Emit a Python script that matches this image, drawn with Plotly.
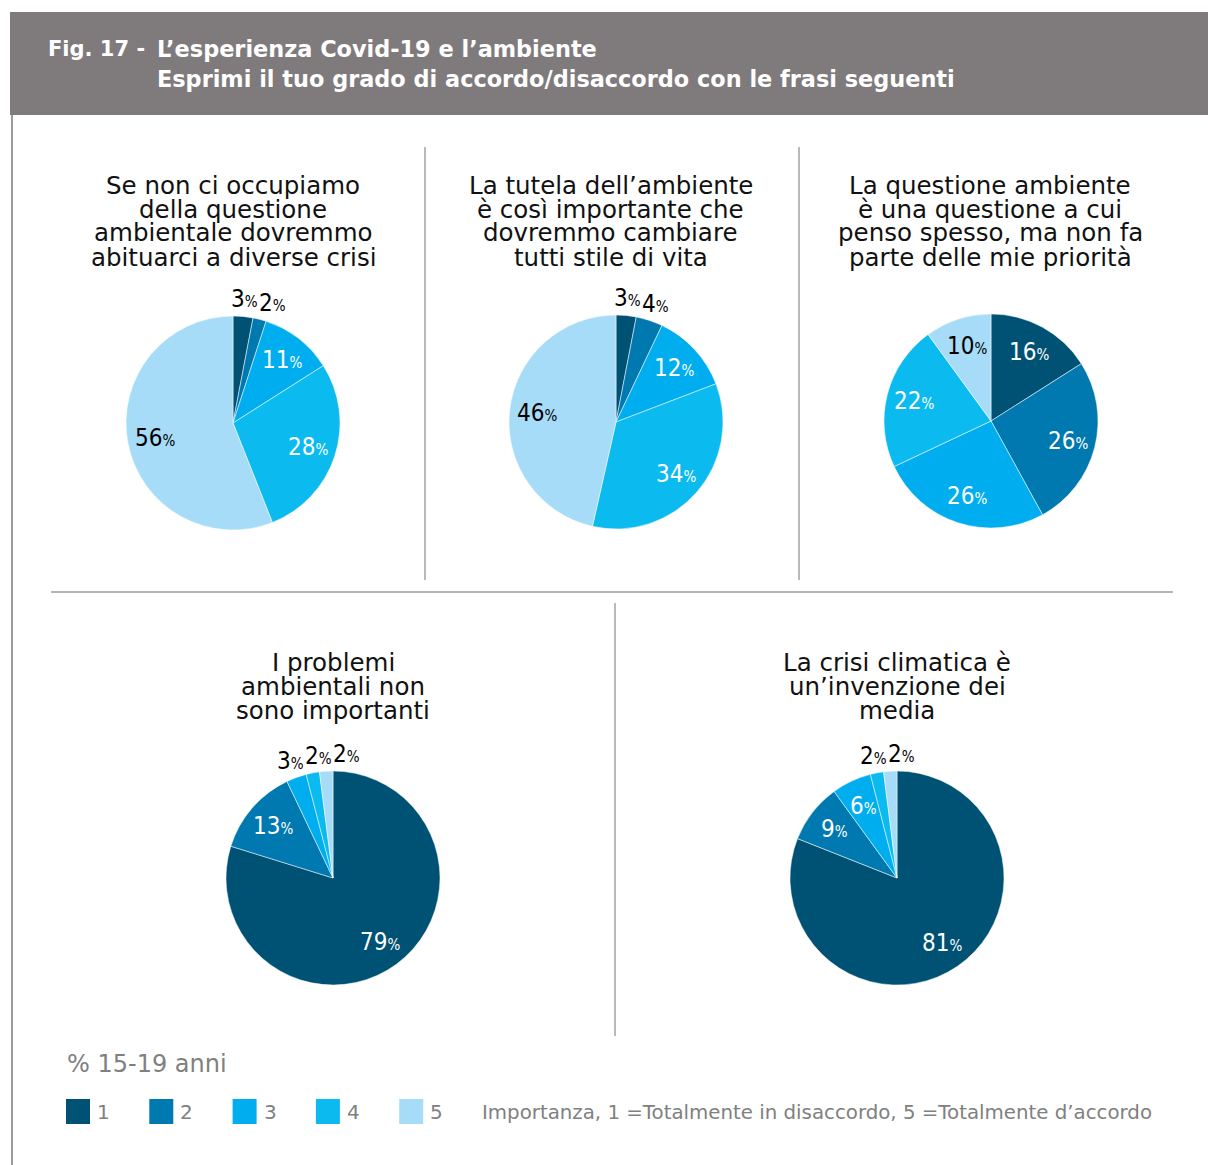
import math
import plotly.graph_objects as go

# ---------------- data ----------------
categories = ["1", "2", "3", "4", "5"]
colors = ["#005275", "#0079b0", "#00aeef", "#0bbbef", "#a6dcf7"]

titles = [
    "Se non ci occupiamo\ndella questione\nambientale dovremmo\nabituarci a diverse crisi",
    "La tutela dell’ambiente\nè così importante che\ndovremmo cambiare\ntutti stile di vita",
    "La questione ambiente\nè una questione a cui\npenso spesso, ma non fa\nparte delle mie priorità",
    "I problemi\nambientali non\nsono importanti",
    "La crisi climatica è\nun’invenzione dei\nmedia",
]
pie1 = [3, 2, 11, 28, 56]
pie2 = [3, 4, 12, 34, 46]
pie3 = [16, 26, 26, 22, 10]
pie4 = [79, 13, 3, 2, 2]
pie5 = [81, 9, 6, 2, 2]
series = [pie1, pie2, pie3, pie4, pie5]

header_fig = "Fig. 17 -"
header_line1 = "L’esperienza Covid-19 e l’ambiente"
header_line2 = "Esprimi il tuo grado di accordo/disaccordo con le frasi seguenti"
legend_title = "% 15-19 anni"
legend_note = "Importanza, 1 =Totalmente in disaccordo, 5 =Totalmente d’accordo"

# ---------------- layout (pixels) ----------------
W, H = 1208, 1165
R = 107
centers = [(233, 423), (616, 422), (991, 421), (333, 878), (897, 878)]
title_cx = [233, 611, 990, 333, 897]
title_top = [185, 185, 185, 662, 662]
FONT = "DejaVu Sans, Liberation Sans, sans-serif"
NUMFONT = "Liberation Sans Narrow, DejaVu Sans Condensed, Roboto Condensed, Liberation Sans, sans-serif"


def px(x):
    return x / W


def py(y):
    return 1 - y / H


fig = go.Figure()
annotations = []
shapes = []

for i, vals in enumerate(series):
    cx, cy = centers[i]
    fig.add_trace(go.Pie(
        values=vals,
        labels=categories,
        marker=dict(colors=colors, line=dict(color="white", width=0.5)),
        sort=False,
        direction="clockwise",
        rotation=0,
        textinfo="none",
        hoverinfo="label+value",
        showlegend=False,
        domain=dict(x=[px(cx - R), px(cx + R)], y=[py(cy + R), py(cy - R)]),
    ))
    total = sum(vals)
    cum = 0
    last_out_x = None
    for k, v in enumerate(vals):
        mid = (cum + v / 2) / total * 2 * math.pi
        cum += v
        frac = v / total
        if frac < 0.05:
            rr = R * 1.16
            col = "black"
        else:
            rr = R * 0.74
            col = "black" if k == 4 else "white"
        x = cx + rr * math.sin(mid)
        y = cy - rr * math.cos(mid)
        if frac < 0.05:
            # keep neighbouring outside labels from colliding
            if last_out_x is not None and x < last_out_x + 28:
                x = last_out_x + 28
            last_out_x = x
        annotations.append(dict(
            x=px(x), y=py(y), xref="paper", yref="paper",
            text=f"<span style='font-size:24px'>{v}</span><span style='font-size:15px'>%</span>",
            showarrow=False, font=dict(family=NUMFONT, color=col, size=24),
            xanchor="center", yanchor="middle",
        ))
    # title lines
    for j, line in enumerate(titles[i].split("\n")):
        annotations.append(dict(
            x=px(title_cx[i]), y=py(title_top[i] + 24 * j), xref="paper", yref="paper",
            text=line, showarrow=False, font=dict(family=FONT, size=24.5, color="#111111"),
            xanchor="center", yanchor="middle",
        ))

# header
shapes.append(dict(type="rect", xref="paper", yref="paper", x0=px(10), x1=px(1208),
                   y0=py(115), y1=py(12), fillcolor="#7f7b7c", line=dict(width=0), layer="below"))
for txt, hx, hy, fs in [(header_fig, 46, 49, 21), (header_line1, 155, 49, 22.4), (header_line2, 155, 79, 22.4)]:
    annotations.append(dict(x=px(hx), y=py(hy), xref="paper", yref="paper", text="<b>" + txt + "</b>",
                            showarrow=False, font=dict(family=FONT, size=fs, color="white"),
                            xanchor="left", yanchor="middle"))

# separator lines
shapes.append(dict(type="line", xref="paper", yref="paper", x0=px(12), x1=px(12), y0=py(115), y1=py(1165),
                   line=dict(color="#9a9a9a", width=2)))
shapes.append(dict(type="line", xref="paper", yref="paper", x0=px(425), x1=px(425), y0=py(147), y1=py(580),
                   line=dict(color="#8a8a8a", width=1.2)))
shapes.append(dict(type="line", xref="paper", yref="paper", x0=px(799), x1=px(799), y0=py(147), y1=py(580),
                   line=dict(color="#8a8a8a", width=1.2)))
shapes.append(dict(type="line", xref="paper", yref="paper", x0=px(51), x1=px(1173), y0=py(592), y1=py(592),
                   line=dict(color="#b5b5b5", width=2)))
shapes.append(dict(type="line", xref="paper", yref="paper", x0=px(615), x1=px(615), y0=py(603), y1=py(1036),
                   line=dict(color="#8a8a8a", width=1.2)))

# legend
annotations.append(dict(x=px(65), y=py(1064), xref="paper", yref="paper", text=legend_title,
                        showarrow=False, font=dict(family=FONT, size=24, color="#808080"),
                        xanchor="left", yanchor="middle"))
for k, c in enumerate(categories):
    x0 = 66 + 83.3 * k
    shapes.append(dict(type="rect", xref="paper", yref="paper", x0=px(x0), x1=px(x0 + 24),
                       y0=py(1124), y1=py(1099), fillcolor=colors[k], line=dict(width=0)))
    annotations.append(dict(x=px(x0 + 29), y=py(1112), xref="paper", yref="paper", text=c,
                            showarrow=False, font=dict(family=FONT, size=20, color="#808080"),
                            xanchor="left", yanchor="middle"))
annotations.append(dict(x=px(480), y=py(1112), xref="paper", yref="paper", text=legend_note,
                        showarrow=False, font=dict(family=FONT, size=19.8, color="#808080"),
                        xanchor="left", yanchor="middle"))

fig.update_layout(
    width=W, height=H,
    margin=dict(l=0, r=0, t=0, b=0),
    paper_bgcolor="white", plot_bgcolor="white",
    annotations=annotations, shapes=shapes,
    showlegend=False,
)

fig.write_html(
    "out.html",
    config={"displayModeBar": False},
    post_script=["document.body.style.margin='0';document.body.style.overflow='hidden';"],
)
